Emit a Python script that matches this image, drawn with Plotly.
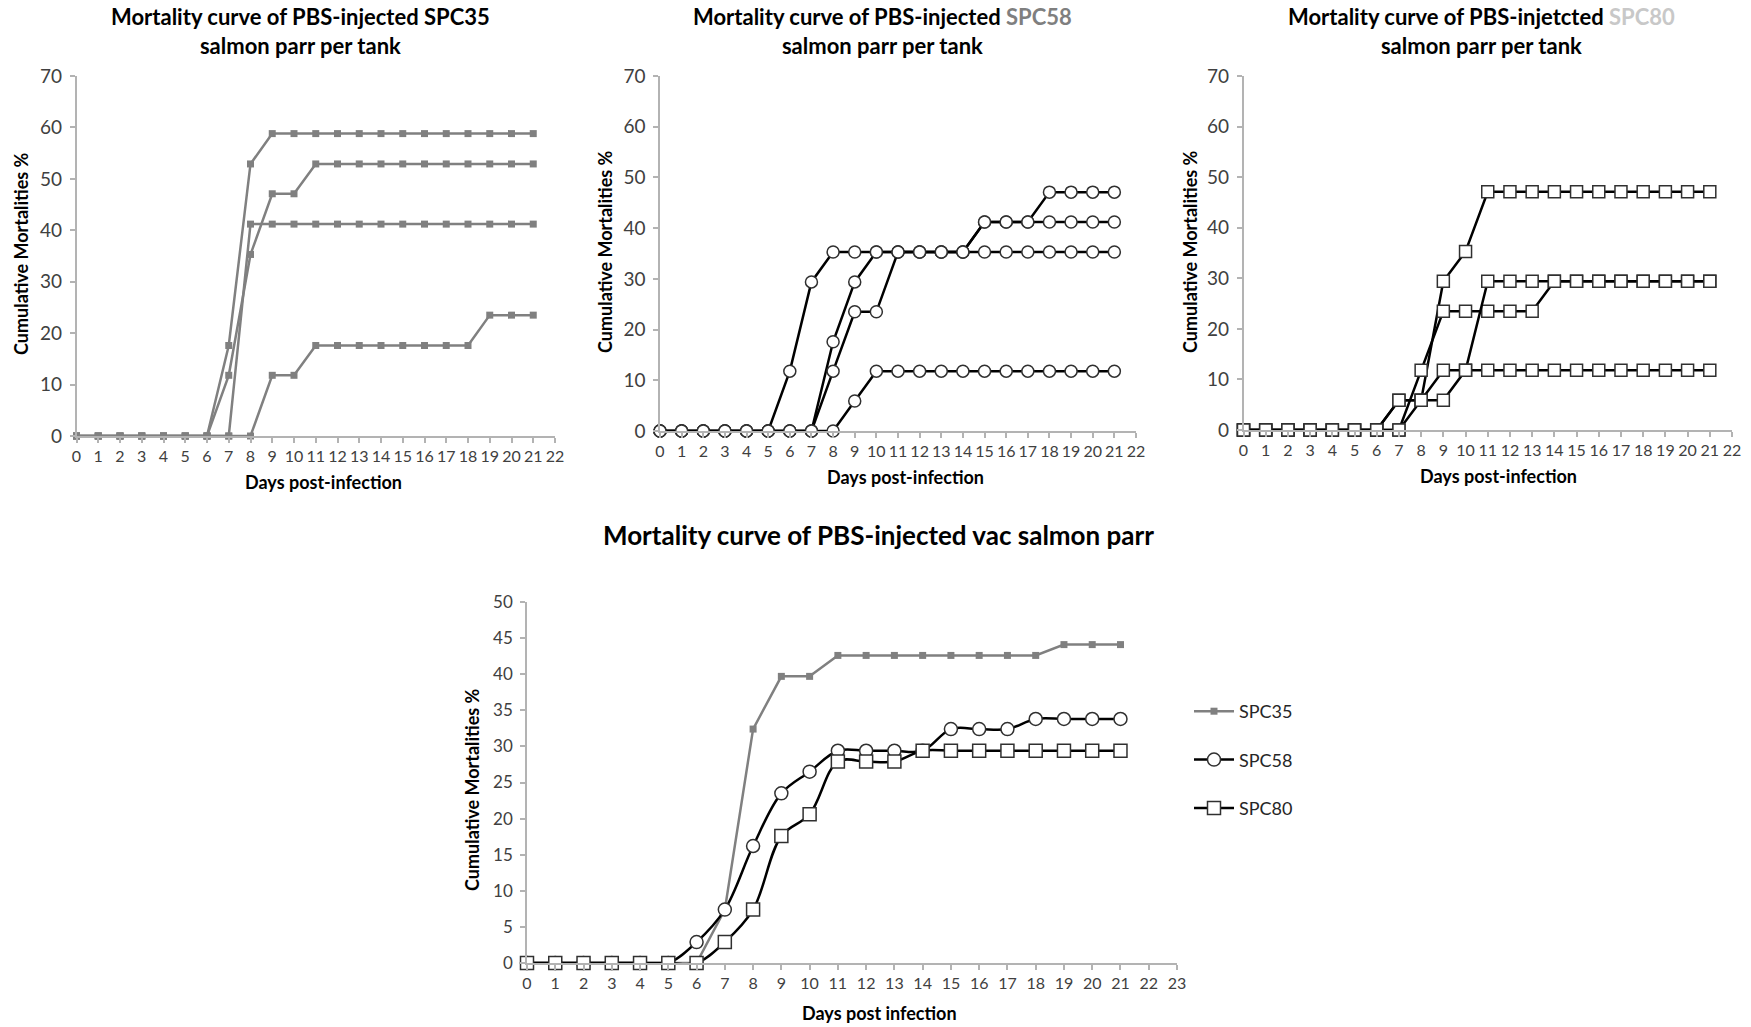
import plotly.graph_objects as go

W, H = 1751, 1027

days = list(range(22))

# ---- Panel 1: SPC35 per tank (cumulative mortality %) ----
spc35_tank1 = [0, 0, 0, 0, 0, 0, 0, 17.6, 52.9, 58.8, 58.8, 58.8, 58.8, 58.8, 58.8, 58.8, 58.8, 58.8, 58.8, 58.8, 58.8, 58.8]
spc35_tank2 = [0, 0, 0, 0, 0, 0, 0, 11.8, 35.3, 47.1, 47.1, 52.9, 52.9, 52.9, 52.9, 52.9, 52.9, 52.9, 52.9, 52.9, 52.9, 52.9]
spc35_tank3 = [0, 0, 0, 0, 0, 0, 0, 0, 41.2, 41.2, 41.2, 41.2, 41.2, 41.2, 41.2, 41.2, 41.2, 41.2, 41.2, 41.2, 41.2, 41.2]
spc35_tank4 = [0, 0, 0, 0, 0, 0, 0, 0, 0, 11.8, 11.8, 17.6, 17.6, 17.6, 17.6, 17.6, 17.6, 17.6, 17.6, 23.5, 23.5, 23.5]

# ---- Panel 2: SPC58 per tank ----
spc58_tank1 = [0, 0, 0, 0, 0, 0, 11.8, 29.4, 35.3, 35.3, 35.3, 35.3, 35.3, 35.3, 35.3, 35.3, 35.3, 35.3, 35.3, 35.3, 35.3, 35.3]
spc58_tank2 = [0, 0, 0, 0, 0, 0, 0, 0, 17.6, 29.4, 35.3, 35.3, 35.3, 35.3, 35.3, 41.2, 41.2, 41.2, 47.1, 47.1, 47.1, 47.1]
spc58_tank3 = [0, 0, 0, 0, 0, 0, 0, 0, 11.8, 23.5, 23.5, 35.3, 35.3, 35.3, 35.3, 41.2, 41.2, 41.2, 41.2, 41.2, 41.2, 41.2]
spc58_tank4 = [0, 0, 0, 0, 0, 0, 0, 0, 0, 5.9, 11.8, 11.8, 11.8, 11.8, 11.8, 11.8, 11.8, 11.8, 11.8, 11.8, 11.8, 11.8]

# ---- Panel 3: SPC80 per tank ----
spc80_tank1 = [0, 0, 0, 0, 0, 0, 0, 0, 5.9, 29.4, 35.3, 47.1, 47.1, 47.1, 47.1, 47.1, 47.1, 47.1, 47.1, 47.1, 47.1, 47.1]
spc80_tank2 = [0, 0, 0, 0, 0, 0, 0, 0, 11.8, 23.5, 23.5, 23.5, 23.5, 23.5, 29.4, 29.4, 29.4, 29.4, 29.4, 29.4, 29.4, 29.4]
spc80_tank3 = [0, 0, 0, 0, 0, 0, 0, 5.9, 5.9, 5.9, 11.8, 29.4, 29.4, 29.4, 29.4, 29.4, 29.4, 29.4, 29.4, 29.4, 29.4, 29.4]
spc80_tank4 = [0, 0, 0, 0, 0, 0, 0, 5.9, 5.9, 11.8, 11.8, 11.8, 11.8, 11.8, 11.8, 11.8, 11.8, 11.8, 11.8, 11.8, 11.8, 11.8]

# ---- Panel 4: overall per strain ----
vac_spc35 = [0, 0, 0, 0, 0, 0, 0, 7.4, 32.4, 39.7, 39.7, 42.6, 42.6, 42.6, 42.6, 42.6, 42.6, 42.6, 42.6, 44.1, 44.1, 44.1]
vac_spc58 = [0, 0, 0, 0, 0, 0, 2.9, 7.4, 16.2, 23.5, 26.5, 29.4, 29.4, 29.4, 29.4, 32.4, 32.4, 32.4, 33.8, 33.8, 33.8, 33.8]
vac_spc80 = [0, 0, 0, 0, 0, 0, 0, 2.9, 7.4, 17.6, 20.6, 27.9, 27.9, 27.9, 29.4, 29.4, 29.4, 29.4, 29.4, 29.4, 29.4, 29.4]

legend_names = ["SPC35", "SPC58", "SPC80"]

GRAY = "#808080"
BLACK = "#000000"
FONT = "Lato"

fig = go.Figure()

def gray_trace(y, xa, ya, name=None, show=False, group=None):
    return go.Scatter(
        x=days, y=y, xaxis=xa, yaxis=ya, mode="lines+markers",
        line=dict(color=GRAY, width=2.5),
        marker=dict(symbol="square", size=7, color=GRAY),
        cliponaxis=False, showlegend=show, name=name, legendgroup=group,
        hoverinfo="x+y",
    )

def black_trace(y, xa, ya, symbol, size, name=None, show=False, group=None, shape="linear"):
    return go.Scatter(
        x=days, y=y, xaxis=xa, yaxis=ya, mode="lines+markers",
        line=dict(color=BLACK, width=2.5, shape=shape),
        marker=dict(symbol=symbol, size=size, color="white",
                    line=dict(color="#303030", width=1.5)),
        cliponaxis=False, showlegend=show, name=name, legendgroup=group,
        hoverinfo="x+y",
    )

for t in [spc35_tank1, spc35_tank2, spc35_tank3, spc35_tank4]:
    fig.add_trace(gray_trace(t, "x", "y"))
for t in [spc58_tank1, spc58_tank2, spc58_tank3, spc58_tank4]:
    fig.add_trace(black_trace(t, "x2", "y2", "circle", 12))
for t in [spc80_tank1, spc80_tank2, spc80_tank3, spc80_tank4]:
    fig.add_trace(black_trace(t, "x3", "y3", "square", 12))

fig.add_trace(gray_trace(vac_spc35, "x4", "y4", name=legend_names[0], show=True, group="a"))
fig.add_trace(black_trace(vac_spc58, "x4", "y4", "circle", 13, name=legend_names[1], show=True, group="b", shape="spline"))
fig.add_trace(black_trace(vac_spc80, "x4", "y4", "square", 13, name=legend_names[2], show=True, group="c", shape="spline"))

def px_x(p):
    return p / W

def px_y(p):
    return 1 - p / H

AXCOL = "#b3b3b3"
TICKCOL = "#404040"

def xaxis(dom, anchor, maxv):
    return dict(domain=dom, anchor=anchor, range=[0, maxv], tick0=0, dtick=1,
                automargin=False,
                showline=True, linecolor=AXCOL, linewidth=1.5,
                ticks="outside", ticklen=5, tickcolor=AXCOL, tickwidth=1.5,
                showgrid=False, zeroline=False,
                tickfont=dict(family=FONT, size=16, color=TICKCOL))

def yaxis(dom, anchor, maxv, step, fsize):
    return dict(domain=dom, anchor=anchor, range=[0, maxv], tick0=0, dtick=step,
                automargin=False,
                showline=True, linecolor=AXCOL, linewidth=1.5,
                ticks="outside", ticklen=5, tickcolor=AXCOL, tickwidth=1.5,
                ticklabelstandoff=4,
                showgrid=False, zeroline=False,
                tickfont=dict(family=FONT, size=fsize, color=TICKCOL))

fig.update_layout(
    width=W, height=H, autosize=False,
    margin=dict(l=0, r=0, t=0, b=0, pad=0, autoexpand=False),
    paper_bgcolor="white", plot_bgcolor="white",
    font=dict(family=FONT, color="#000000"),
    xaxis=xaxis([px_x(76.5), px_x(555)], "y", 22),
    yaxis=yaxis([px_y(436), px_y(76)], "x", 70, 10, 19),
    xaxis2=xaxis([px_x(660), px_x(1136)], "y2", 22),
    yaxis2=yaxis([px_y(431), px_y(76)], "x2", 70, 10, 19),
    xaxis3=xaxis([px_x(1243.5), px_x(1732)], "y3", 22),
    yaxis3=yaxis([px_y(430), px_y(76)], "x3", 70, 10, 19),
    xaxis4=xaxis([px_x(527), px_x(1177)], "y4", 23),
    yaxis4=yaxis([px_y(963), px_y(602)], "x4", 50, 5, 17),
    legend=dict(x=px_x(1189), y=px_y(693), xanchor="left", yanchor="top",
                font=dict(family=FONT, size=18, color="#262626"),
                traceorder="grouped", tracegroupgap=22, itemwidth=40,
                bgcolor="rgba(0,0,0,0)"),
    hovermode="closest",
)

annotations = []

def ann(text, x, y, size, bold=True, angle=0):
    t = f"<b>{text}</b>" if bold else text
    annotations.append(dict(text=t, x=px_x(x), y=px_y(y), xref="paper", yref="paper",
                            showarrow=False, xanchor="center", yanchor="middle",
                            textangle=angle, align="center",
                            font=dict(family=FONT, size=size, color="#000000")))

# Panel titles
ann("Mortality curve of PBS-injected SPC35<br>salmon parr per tank", 300, 31, 22)
ann("Mortality curve of PBS-injected <span style='color:#7f7f7f'>SPC58</span><br>salmon parr per tank", 882, 31, 22)
ann("Mortality curve of PBS-injetcted <span style='color:#c8c8c8'>SPC80</span><br>salmon parr per tank", 1481, 31, 22)
ann("Mortality curve of PBS-injected vac salmon parr", 878, 535, 26)

# Axis titles
ann("Cumulative Mortalities %", 21, 254, 18, angle=-90)
ann("Cumulative Mortalities %", 605, 252, 18, angle=-90)
ann("Cumulative Mortalities %", 1190, 252, 18, angle=-90)
ann("Cumulative Mortalities %", 472, 790, 18, angle=-90)
ann("Days post-infection", 323, 482, 18)
ann("Days post-infection", 905, 477, 18)
ann("Days post-infection", 1498, 476, 18)
ann("Days post infection", 880, 1013, 18)

fig.update_layout(annotations=annotations)

fig.write_html("out.html",
               config={"displayModeBar": False},
               post_script="document.body.style.margin='0';document.body.style.overflow='hidden';")
